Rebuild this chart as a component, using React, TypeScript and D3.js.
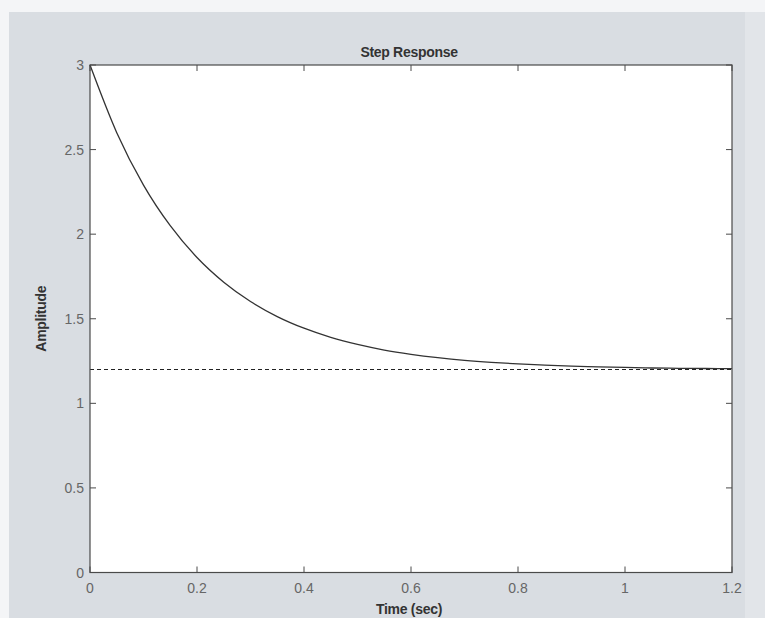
import React, { useRef, useEffect } from "react";
import * as d3 from "d3";

// step response samples
const timeSec = [0, 0.05, 0.1, 0.15, 0.2, 0.25, 0.3, 0.35, 0.4, 0.45, 0.5, 0.55, 0.6, 0.65, 0.7, 0.75, 0.8, 0.85, 0.9, 0.95, 1.0, 1.05, 1.1, 1.15, 1.2];
const amplitude = [3.0, 2.6, 2.29, 2.05, 1.862, 1.716, 1.602, 1.513, 1.444, 1.39, 1.348, 1.315, 1.29, 1.27, 1.254, 1.242, 1.233, 1.226, 1.22, 1.216, 1.212, 1.209, 1.207, 1.206, 1.205];
const steadyState = 1.2;
const xTicks = [0, 0.2, 0.4, 0.6, 0.8, 1, 1.2];
const yTicks = [0, 0.5, 1, 1.5, 2, 2.5, 3];

const StepResponse = () => {
  const ref = useRef(null);

  useEffect(() => {
    const svg = d3.select(ref.current);
    svg.selectAll("*").remove();

    const W = 765;
    const H = 618;
    const margin = { top: 65, right: 33, bottom: 45.5, left: 90 };
    const width = W - margin.left - margin.right;
    const height = H - margin.top - margin.bottom;
    const font = "Liberation Sans, Arial, sans-serif";

    svg.attr("width", W).attr("height", H);

    // figure background
    svg.append("rect").attr("width", W).attr("height", H).attr("fill", "#f4f5f7");
    svg.append("rect").attr("x", 9).attr("y", 12).attr("width", 736).attr("height", H - 12).attr("fill", "#d9dde2");
    svg.append("rect").attr("x", 745).attr("y", 12).attr("width", 20).attr("height", H - 12).attr("fill", "#e2e5e9");

    const g = svg.append("g").attr("transform", `translate(${margin.left},${margin.top})`);

    const x = d3.scaleLinear().domain([0, 1.2]).range([0, width]);
    const y = d3.scaleLinear().domain([0, 3]).range([height, 0]);

    g.append("rect").attr("width", width).attr("height", height).attr("fill", "#ffffff");

    const tickLen = 6;
    const axisColor = "#4a4a4a";

    // ticks on all four sides, pointing inwards
    const tickG = g.append("g").attr("stroke", axisColor).attr("stroke-width", 1);
    xTicks.forEach((t) => {
      tickG.append("line").attr("x1", x(t)).attr("x2", x(t)).attr("y1", height).attr("y2", height - tickLen);
      tickG.append("line").attr("x1", x(t)).attr("x2", x(t)).attr("y1", 0).attr("y2", tickLen);
    });
    yTicks.forEach((t) => {
      tickG.append("line").attr("x1", 0).attr("x2", tickLen).attr("y1", y(t)).attr("y2", y(t));
      tickG.append("line").attr("x1", width).attr("x2", width - tickLen).attr("y1", y(t)).attr("y2", y(t));
    });

    // steady-state dashed line
    g.append("line")
      .attr("x1", x(0))
      .attr("x2", x(1.2))
      .attr("y1", y(steadyState))
      .attr("y2", y(steadyState))
      .attr("stroke", "#222")
      .attr("stroke-width", 1.2)
      .attr("stroke-dasharray", "4,3");

    const line = d3
      .line()
      .x((d) => x(d[0]))
      .y((d) => y(d[1]))
      .curve(d3.curveMonotoneX);

    g.append("path")
      .datum(timeSec.map((t, i) => [t, amplitude[i]]))
      .attr("d", line)
      .attr("fill", "none")
      .attr("stroke", "#333")
      .attr("stroke-width", 1.3);

    g.append("rect")
      .attr("width", width)
      .attr("height", height)
      .attr("fill", "none")
      .attr("stroke", axisColor)
      .attr("stroke-width", 1.2);

    // tick labels
    g.selectAll(".xl")
      .data(xTicks)
      .enter()
      .append("text")
      .attr("x", (d) => x(d))
      .attr("y", height + 20)
      .attr("text-anchor", "middle")
      .style("font-family", font)
      .style("font-size", "14px")
      .style("fill", "#666")
      .text((d) => d3.format("")(d));

    g.selectAll(".yl")
      .data(yTicks)
      .enter()
      .append("text")
      .attr("x", -6)
      .attr("y", (d) => y(d) + 5)
      .attr("text-anchor", "end")
      .style("font-family", font)
      .style("font-size", "14px")
      .style("fill", "#666")
      .text((d) => d3.format("")(d));

    svg.append("text")
      .attr("x", 409)
      .attr("y", 57)
      .attr("text-anchor", "middle")
      .style("font-family", font)
      .style("font-size", "14px")
      .style("font-weight", "bold")
      .style("letter-spacing", "-0.3px")
      .style("fill", "#333")
      .text("Step Response");

    svg.append("text")
      .attr("x", 409)
      .attr("y", 614)
      .attr("text-anchor", "middle")
      .style("font-family", font)
      .style("font-size", "14px")
      .style("font-weight", "bold")
      .style("letter-spacing", "-0.3px")
      .style("fill", "#333")
      .text("Time (sec)");

    svg.append("text")
      .attr("transform", `translate(46,${margin.top + height / 2}) rotate(-90)`)
      .attr("text-anchor", "middle")
      .style("font-family", font)
      .style("font-size", "14px")
      .style("font-weight", "bold")
      .style("letter-spacing", "-0.3px")
      .style("fill", "#333")
      .text("Amplitude");
  }, []);

  return (
    <div style={{ position: "absolute", left: 0, top: 0 }}>
      <svg ref={ref} style={{ display: "block" }} />
    </div>
  );
};

export default function App() {
  return <StepResponse />;
}
